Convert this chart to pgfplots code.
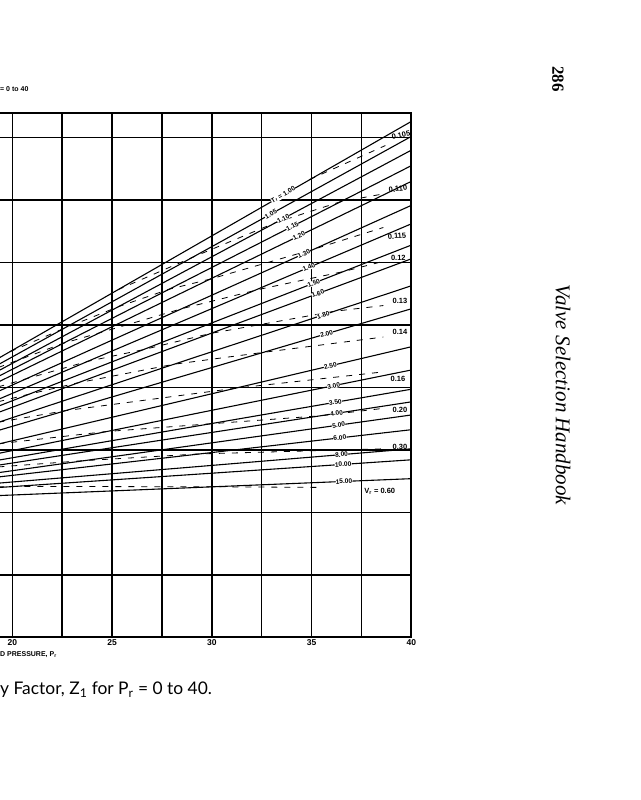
\documentclass[border=0pt]{standalone}
\usepackage{fontspec}
\setmainfont{Liberation Sans}
\newfontfamily\serifbf{Liberation Serif}
\newfontfamily\capfont{Lato}
\usepackage{pgfplots}
\pgfplotsset{compat=1.18}
\usepackage{pgfplotstable}

\pgfplotstableread{
Pr T100 T105 T110 T115 T120 T130 T140 T150 T160 T180 T200 T250 T300 T350 T400 T500 T600 T800 T1000 T1500
19.3 2.233 2.183 2.133 2.0885 2.044 1.969 1.905 1.850 1.800 1.721 1.656 1.547 1.472 1.418 1.378 1.318 1.2835 1.234 1.199 1.1345
40 4.13 4.01 3.90 3.776 3.65 3.458 3.31 3.14 3.03 2.814 2.63 2.326 2.14 1.986 1.885 1.78 1.662 1.509 1.421 1.27
}\tr

\tikzset{
  iso/.style={black, line width=0.8pt, dash pattern=on 6pt off 7pt},
  trl/.style={black, line width=1.1pt},
  lab/.style={fill=white, inner sep=0.2pt, sloped, font=\bfseries\fontsize{6.6}{6.6}\selectfont},
  vl/.style={inner sep=0.5pt, font=\bfseries\fontsize{7.5}{7.5}\selectfont},
}

\begin{document}
\begin{tikzpicture}[x=1pt,y=1pt]
\useasboundingbox (0,0) rectangle (640,800);
\begin{axis}[
  at={(-1.7pt,162.7pt)}, anchor=south west,
  scale only axis, width=413pt, height=524.6pt,
  xmin=19.3, xmax=40, ymin=0, ymax=4.2,
  xtick={20,25,30,35,40}, minor xtick={22.5,27.5,32.5,37.5},
  ytick={0.5,1,1.5,2,2.5,3,3.5,4}, yticklabels={},
  major tick length=0pt, minor tick length=0pt,
  grid=both,
  major grid style={black, line width=1.5pt},
  minor grid style={black, line width=1.5pt},
  axis line style={black, line width=2pt},
  /pgf/number format/assume math mode=true,
  xticklabel style={font=\bfseries\fontsize{8.5}{8.5}\selectfont, inner sep=0pt, yshift=-2.5pt},
]
% ---- isochores (ideal reduced volume), dashed
\addplot[iso] coordinates {(34.9,3.665) (38.7,3.937)};
\addplot[iso] coordinates {(25.3,2.783) (29.05,3.043) (33.2,3.320) (36.45,3.487) (38.6,3.550)};
\addplot[iso] coordinates {(19.88,2.286) (22.55,2.470) (25.32,2.647) (27.87,2.787) (29.93,2.868) (35.13,3.108) (38.6,3.281)};
\addplot[iso] coordinates {(19.3,2.16) (22.56,2.354) (24.37,2.437) (28.5,2.631) (32.5,2.79) (36.6,2.928) (38.6,3.01)};
\addplot[iso] coordinates {(19.3,2.005) (20.69,2.069) (23.80,2.210) (26.57,2.303) (29.95,2.433) (36.14,2.610) (38.6,2.656)};
\addplot[iso] coordinates {(19.3,1.886) (20.86,1.947) (23.28,2.037) (28.10,2.186) (32.58,2.281) (38.6,2.404)};
\addplot[iso] coordinates {(19.3,1.722) (22.69,1.815) (31.14,1.993) (38.6,2.125)};
\addplot[iso] coordinates {(19.3,1.549) (24.70,1.647) (29.91,1.709) (35.48,1.774) (38.6,1.833)};
\addplot[iso] coordinates {(19.3,1.364) (23.56,1.414) (29.35,1.468) (38.6,1.509)};
\addplot[iso] coordinates {(19.3,1.205) (20.13,1.208) (30.13,1.205) (35.5,1.200)};
% ---- reduced temperature lines
\pgfplotsinvokeforeach{T100,T105,T110,T115,T120,T130,T140,T150,T160,T180,T200,T250,T300,T350,T400,T500,T600,T800,T1000,T1500}{
  \addplot[trl] table[x=Pr, y=#1] {\tr};
}
% ---- labels on the lines
\addplot[draw=none] table[x=Pr,y=T100]{\tr} node[lab,pos=0.690]{T\textsubscript{r} = 1.00};
\addplot[draw=none] table[x=Pr,y=T105]{\tr} node[lab,pos=0.660]{1.05};
\addplot[draw=none] table[x=Pr,y=T110]{\tr} node[lab,pos=0.690]{1.10};
\addplot[draw=none] table[x=Pr,y=T115]{\tr} node[lab,pos=0.712]{1.15};
\addplot[draw=none] table[x=Pr,y=T120]{\tr} node[lab,pos=0.728]{1.20};
\addplot[draw=none] table[x=Pr,y=T130]{\tr} node[lab,pos=0.740]{1.30};
\addplot[draw=none] table[x=Pr,y=T140]{\tr} node[lab,pos=0.752]{1.40};
\addplot[draw=none] table[x=Pr,y=T150]{\tr} node[lab,pos=0.764]{1.50};
\addplot[draw=none] table[x=Pr,y=T160]{\tr} node[lab,pos=0.774]{1.60};
\addplot[draw=none] table[x=Pr,y=T180]{\tr} node[lab,pos=0.787]{1.80};
\addplot[draw=none] table[x=Pr,y=T200]{\tr} node[lab,pos=0.795]{2.00};
\addplot[draw=none] table[x=Pr,y=T250]{\tr} node[lab,pos=0.804]{2.50};
\addplot[draw=none] table[x=Pr,y=T300]{\tr} node[lab,pos=0.812]{3.00};
\addplot[draw=none] table[x=Pr,y=T350]{\tr} node[lab,pos=0.816]{3.50};
\addplot[draw=none] table[x=Pr,y=T400]{\tr} node[lab,pos=0.819]{4.00};
\addplot[draw=none] table[x=Pr,y=T500]{\tr} node[lab,pos=0.824]{5.00};
\addplot[draw=none] table[x=Pr,y=T600]{\tr} node[lab,pos=0.827]{6.00};
\addplot[draw=none] table[x=Pr,y=T800]{\tr} node[lab,pos=0.831]{8.00};
\addplot[draw=none] table[x=Pr,y=T1000]{\tr} node[lab,pos=0.835]{10.00};
\addplot[draw=none] table[x=Pr,y=T1500]{\tr} node[lab,pos=0.837]{15.00};
% ---- isochore labels
\node[vl, rotate=12] at (axis cs:39.48,4.022) {0.105};
\node[vl, rotate=8]  at (axis cs:39.33,3.589) {0.110};
\node[vl, rotate=5]  at (axis cs:39.28,3.212) {0.115};
\node[vl] at (axis cs:39.35,3.037) {0.12};
\node[vl] at (axis cs:39.43,2.693) {0.13};
\node[vl] at (axis cs:39.43,2.444) {0.14};
\node[vl] at (axis cs:39.33,2.067) {0.16};
\node[vl] at (axis cs:39.43,1.820) {0.20};
\node[vl] at (axis cs:39.43,1.524) {0.30};
\node[vl] at (axis cs:38.42,1.172) {V\textsubscript{r} = 0.60};
\end{axis}
% ---- page text
\node[anchor=west, inner sep=0pt, font=\bfseries\fontsize{7}{7}\selectfont] at (0,710.5) {= 0 to 40};
\node[anchor=west, inner sep=0pt, font=\bfseries\fontsize{7}{7}\selectfont] at (0,145.5) {D PRESSURE, P\textsubscript{r}};
\node[anchor=base west, inner sep=0pt, font=\capfont\fontsize{17.4}{17.4}\selectfont] at (0,105) {y Factor, Z\textsubscript{1} for P\textsubscript{r} = 0 to 40.};
\node[rotate=-90, inner sep=0pt, font=\serifbf\bfseries\fontsize{17}{17}\selectfont] at (558,721) {286};
\node[rotate=-90, inner sep=0pt, font=\serifbf\itshape\fontsize{21}{21}\selectfont] at (563,405) {Valve Selection Handbook};
\end{tikzpicture}
\end{document}
